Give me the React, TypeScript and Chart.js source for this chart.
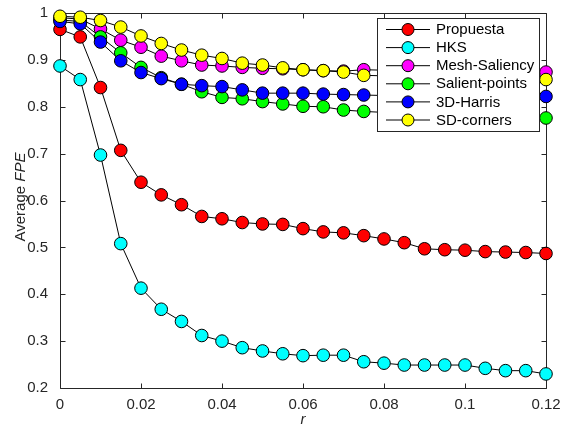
import React, { useEffect, useRef } from "react";
import { Chart, registerables } from "chart.js";

Chart.register(...registerables);

const rValues = [0, 0.005, 0.01, 0.015, 0.02, 0.025, 0.03, 0.035, 0.04, 0.045, 0.05, 0.055, 0.06, 0.065, 0.07, 0.075, 0.08, 0.085, 0.09, 0.095, 0.1, 0.105, 0.11, 0.115, 0.12];

const propuesta = [0.965, 0.949, 0.841, 0.707, 0.639, 0.612, 0.591, 0.566, 0.561, 0.553, 0.55, 0.549, 0.54, 0.533, 0.531, 0.525, 0.518, 0.51, 0.497, 0.495, 0.494, 0.491, 0.49, 0.489, 0.487];
const hks = [0.887, 0.858, 0.697, 0.508, 0.413, 0.368, 0.342, 0.312, 0.3, 0.286, 0.279, 0.273, 0.269, 0.27, 0.27, 0.256, 0.253, 0.249, 0.249, 0.249, 0.249, 0.242, 0.237, 0.237, 0.23];
const meshSaliency = [0.99, 0.987, 0.966, 0.942, 0.927, 0.908, 0.898, 0.889, 0.887, 0.884, 0.882, 0.881, 0.879, 0.877, 0.876, 0.879, 0.878, 0.877, 0.876, 0.876, 0.875, 0.875, 0.874, 0.874, 0.874];
const salientPoints = [0.985, 0.982, 0.949, 0.915, 0.884, 0.862, 0.848, 0.832, 0.82, 0.817, 0.811, 0.806, 0.801, 0.8, 0.793, 0.79, 0.788, 0.787, 0.785, 0.784, 0.782, 0.781, 0.779, 0.778, 0.776];
const harris3D = [0.982, 0.977, 0.938, 0.898, 0.873, 0.86, 0.848, 0.845, 0.843, 0.836, 0.829, 0.829, 0.829, 0.827, 0.826, 0.825, 0.824, 0.824, 0.823, 0.823, 0.823, 0.822, 0.822, 0.822, 0.822];
const sdCorners = [0.993, 0.991, 0.984, 0.97, 0.951, 0.935, 0.921, 0.91, 0.903, 0.893, 0.889, 0.883, 0.879, 0.877, 0.874, 0.867, 0.866, 0.865, 0.864, 0.863, 0.862, 0.861, 0.86, 0.859, 0.858];

const seriesNames = ["Propuesta", "HKS", "Mesh-Saliency", "Salient-points", "3D-Harris", "SD-corners"];
const seriesColors = ["#ff0000", "#00ffff", "#ff00ff", "#00ff00", "#0000ff", "#ffff00"];
const seriesValues = [propuesta, hks, meshSaliency, salientPoints, harris3D, sdCorners];

const xTicks = [0, 0.02, 0.04, 0.06, 0.08, 0.1, 0.12];
const yTicks = [0.2, 0.3, 0.4, 0.5, 0.6, 0.7, 0.8, 0.9, 1];

const FONT = "'Liberation Sans', Arial, sans-serif";
const AXIS_COLOR = "#262626";

const fmt = (v: number) => parseFloat(v.toFixed(3)).toString();

const framePlugin = {
  id: "frame",
  beforeDatasetsDraw(chart: any) {
    const { ctx, chartArea } = chart;
    const { left, right, top, bottom } = chartArea;
    const xs = chart.scales.x;
    const ys = chart.scales.y;
    ctx.save();
    ctx.strokeStyle = AXIS_COLOR;
    ctx.lineWidth = 1;
    ctx.beginPath();
    const L = Math.round(left) + 0.5, R = Math.round(right) + 0.5;
    const T = Math.round(top) + 0.5, B = Math.round(bottom) + 0.5;
    ctx.rect(L, T, R - L, B - T);
    const tl = 5;
    xTicks.forEach((t) => {
      const px = Math.round(xs.getPixelForValue(t)) + 0.5;
      ctx.moveTo(px, B); ctx.lineTo(px, B - tl);
      ctx.moveTo(px, T); ctx.lineTo(px, T + tl);
    });
    yTicks.forEach((t) => {
      const py = Math.round(ys.getPixelForValue(t)) + 0.5;
      ctx.moveTo(L, py); ctx.lineTo(L + tl, py);
      ctx.moveTo(R, py); ctx.lineTo(R - tl, py);
    });
    ctx.stroke();
    ctx.restore();
  },
  afterDraw(chart: any) {
    const { ctx, chartArea } = chart;
    ctx.save();
    ctx.fillStyle = AXIS_COLOR;
    ctx.textBaseline = "middle";
    ctx.textAlign = "center";
    ctx.font = `italic 15px ${FONT}`;
    ctx.fillText("r", (chartArea.left + chartArea.right) / 2, 420);

    ctx.save();
    ctx.translate(21, 197);
    ctx.rotate(-Math.PI / 2);
    ctx.font = `15px ${FONT}`;
    const part1 = "Average ";
    const w1 = ctx.measureText(part1).width;
    ctx.font = `italic 15px ${FONT}`;
    const w2 = ctx.measureText("FPE").width;
    const start = -(w1 + w2) / 2;
    ctx.textAlign = "left";
    ctx.font = `15px ${FONT}`;
    ctx.fillText(part1, start, 0);
    ctx.font = `italic 15px ${FONT}`;
    ctx.fillText("FPE", start + w1, 0);
    ctx.restore();

    const bx = 377.5, by = 18.5, bw = 162, bh = 113;
    ctx.fillStyle = "#ffffff";
    ctx.fillRect(bx, by, bw, bh);
    ctx.strokeStyle = AXIS_COLOR;
    ctx.lineWidth = 1;
    ctx.strokeRect(bx, by, bw, bh);
    ctx.font = `15px ${FONT}`;
    ctx.textAlign = "left";
    ctx.textBaseline = "middle";
    seriesNames.forEach((name, i) => {
      const y = 29.5 + i * 18.1;
      ctx.strokeStyle = "#000000";
      ctx.beginPath();
      ctx.moveTo(386, y);
      ctx.lineTo(430, y);
      ctx.stroke();
      ctx.beginPath();
      ctx.arc(408, y, 6, 0, Math.PI * 2);
      ctx.fillStyle = seriesColors[i];
      ctx.fill();
      ctx.stroke();
      ctx.fillStyle = "#000000";
      ctx.fillText(name, 436, y + 0.5);
    });
    ctx.restore();
  },
};

export default function App() {
  const canvasRef = useRef<HTMLCanvasElement | null>(null);

  useEffect(() => {
    document.body.style.margin = "0";
    const canvas = canvasRef.current;
    if (!canvas) return;
    const chart = new Chart(canvas, {
      type: "line",
      data: {
        datasets: seriesNames.map((name, i) => ({
          label: name,
          data: rValues.map((r, j) => ({ x: r, y: seriesValues[i][j] })),
          borderColor: "#000000",
          borderWidth: 1,
          backgroundColor: seriesColors[i],
          pointBackgroundColor: seriesColors[i],
          pointBorderColor: "#000000",
          pointBorderWidth: 1,
          pointRadius: 6.3,
          pointHoverRadius: 6.3,
          tension: 0,
          fill: false,
          order: seriesNames.length - i,
          clip: false as any,
        })),
      },
      options: {
        animation: false,
        responsive: false,
        devicePixelRatio: 1,
        events: [],
        layout: { padding: { top: 10, right: 22, left: 0, bottom: 0 } },
        plugins: {
          legend: { display: false },
          tooltip: { enabled: false },
        },
        scales: {
          x: {
            type: "linear",
            min: 0,
            max: 0.12,
            grid: { display: false },
            border: { display: false },
            afterBuildTicks: (scale: any) => {
              scale.ticks = xTicks.map((v) => ({ value: v }));
            },
            afterFit: (scale: any) => {
              scale.height = 42;
            },
            ticks: {
              autoSkip: false,
              maxRotation: 0,
              padding: 0,
              color: AXIS_COLOR,
              font: { family: FONT, size: 15 },
              callback: (v: any) => fmt(Number(v)),
            },
          },
          y: {
            type: "linear",
            min: 0.2,
            max: 1,
            grid: { display: false },
            border: { display: false },
            afterBuildTicks: (scale: any) => {
              scale.ticks = yTicks.map((v) => ({ value: v }));
            },
            afterFit: (scale: any) => {
              scale.width = 60;
            },
            ticks: {
              autoSkip: false,
              padding: 4,
              color: AXIS_COLOR,
              font: { family: FONT, size: 15 },
              callback: (v: any) => fmt(Number(v)),
            },
          },
        },
      },
      plugins: [framePlugin],
    });
    return () => chart.destroy();
  }, []);

  return (
    <div style={{ width: 568, height: 430 }}>
      <canvas ref={canvasRef} width={568} height={430} style={{ display: "block" }} />
    </div>
  );
}
